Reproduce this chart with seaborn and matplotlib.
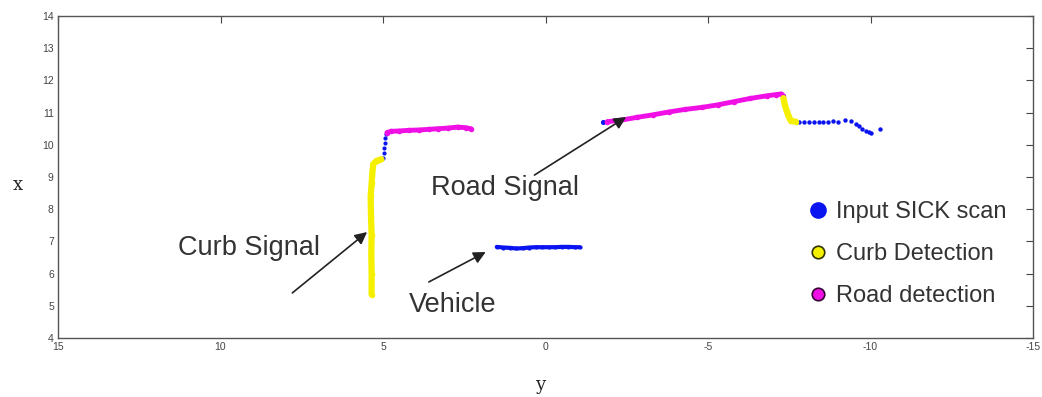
import matplotlib
matplotlib.use("Agg")
import matplotlib.pyplot as plt
from matplotlib.lines import Line2D
import seaborn as sns
import pandas as pd

# ---- data (y = lateral, x = forward) ----
curb_yellow_y = [5.35, 5.35, 5.36, 5.35, 5.37, 5.38, 5.35, 5.33, 5.30, 5.20, 5.05]
curb_yellow_x = [5.35, 6.00, 6.60, 7.20, 7.80, 8.40, 8.80, 9.10, 9.40, 9.50, 9.55]

curb_blue_y = [5.00, 4.98, 4.96, 4.95, 4.93, 4.91]
curb_blue_x = [9.60, 9.75, 9.90, 10.05, 10.20, 10.32]

curb_road_y = [4.88, 4.75, 4.50, 4.20, 3.90, 3.60, 3.30, 3.00, 2.70, 2.45, 2.30]
curb_road_x = [10.38, 10.42, 10.43, 10.45, 10.46, 10.48, 10.50, 10.52, 10.55, 10.53, 10.50]

road_start_y = [-1.78]
road_start_x = [10.72]

road_y = [-1.90, -2.30, -2.80, -3.30, -3.80, -4.30, -4.80, -5.30, -5.80, -6.30, -6.80, -7.10, -7.25, -7.32]
road_x = [10.72, 10.76, 10.85, 10.93, 11.02, 11.10, 11.16, 11.24, 11.34, 11.44, 11.52, 11.56, 11.58, 11.52]

curb2_y = [-7.32, -7.36, -7.42, -7.48, -7.55, -7.70]
curb2_x = [11.45, 11.25, 11.05, 10.88, 10.74, 10.72]

tail_y = [-7.80, -7.95, -8.10, -8.25, -8.40, -8.55, -8.70, -8.85, -9.00, -9.20, -9.40, -9.55, -9.65, -9.75, -9.85, -9.95, -10.02, -10.30]
tail_x = [10.72, 10.72, 10.72, 10.72, 10.72, 10.72, 10.72, 10.73, 10.72, 10.76, 10.74, 10.66, 10.58, 10.50, 10.43, 10.39, 10.38, 10.49]

vehicle_y = [1.50, 1.30, 1.10, 0.90, 0.70, 0.50, 0.30, 0.10, -0.10, -0.30, -0.50, -0.70, -0.90, -1.05]
vehicle_x = [6.83, 6.81, 6.80, 6.78, 6.79, 6.81, 6.82, 6.82, 6.82, 6.82, 6.83, 6.83, 6.82, 6.82]

x_ticks = [15, 10, 5, 0, -5, -10, -15]
y_ticks = [4, 5, 6, 7, 8, 9, 10, 11, 12, 13, 14]
legend_labels = ["Input SICK scan", "Curb Detection", "Road detection"]

BLUE = "#0a14f0"
YELLOW = "#f5f000"
MAGENTA = "#f010e6"

sns.set_style("white")
plt.rcParams["font.family"] = ["Liberation Sans", "DejaVu Sans"]
plt.rcParams["axes.unicode_minus"] = False

fig = plt.figure(figsize=(10.42, 3.97), dpi=100)
ax = fig.add_axes([58 / 1042, 59 / 397, (1033 - 58) / 1042, (338 - 16) / 397])

def seg(ys, xs, color, lw, ms):
    df = pd.DataFrame({"y": ys, "x": xs})
    sns.lineplot(data=df, x="y", y="x", sort=False, estimator=None, color=color,
                 lw=lw, marker="o", markersize=ms, markeredgewidth=0, ax=ax)

def dots(ys, xs, color, s):
    df = pd.DataFrame({"y": ys, "x": xs})
    sns.scatterplot(data=df, x="y", y="x", color=color, s=s, linewidth=0, ax=ax)

seg(curb_yellow_y, curb_yellow_x, YELLOW, 4.5, 4)
dots(curb_blue_y, curb_blue_x, BLUE, 9)
seg(curb_road_y, curb_road_x, MAGENTA, 3.5, 4)
dots(road_start_y, road_start_x, BLUE, 14)
seg(road_y, road_x, MAGENTA, 3.5, 4)
seg(curb2_y, curb2_x, YELLOW, 4.5, 4)
dots(tail_y, tail_x, BLUE, 10)
seg(vehicle_y, vehicle_x, BLUE, 3.0, 3)

ax.set_xlim(15, -15)
ax.set_ylim(4, 14)
ax.set_xticks(x_ticks)
ax.set_yticks(y_ticks)
ax.tick_params(direction="in", length=5, width=0.8, top=True, right=True,
               labelsize=7.5, labelcolor="#444444", color="#444444", pad=3)
for sp in ax.spines.values():
    sp.set_color("#555555")
    sp.set_linewidth(1.0)

ax.set_xlabel("y", family="DejaVu Serif", fontsize=13, va="center")
ax.set_ylabel("x", family="DejaVu Serif", fontsize=13, rotation=0, va="center", ha="center")
ax.xaxis.set_label_coords(0.494, -0.146)
ax.yaxis.set_label_coords(-0.041, 0.475)

# annotations
arrow = dict(arrowstyle="-|>", color="#222222", lw=1.2, mutation_scale=18, shrinkA=0, shrinkB=0)
ax.text(11.32, 6.8, "Curb Signal", fontsize=19.5, color="#333333", va="center", ha="left")
ax.annotate("", xy=(5.49, 7.29), xytext=(7.79, 5.40), arrowprops=arrow)
ax.text(3.53, 8.66, "Road Signal", fontsize=19.5, color="#333333", va="center", ha="left")
ax.annotate("", xy=(-2.48, 10.86), xytext=(0.34, 9.06), arrowprops=arrow)
ax.text(4.20, 5.02, "Vehicle", fontsize=19.5, color="#333333", va="center", ha="left")
ax.annotate("", xy=(1.84, 6.67), xytext=(3.59, 5.74), arrowprops=arrow)

handles = [
    Line2D([], [], ls="", marker="o", markersize=11, markerfacecolor=BLUE, markeredgecolor=BLUE),
    Line2D([], [], ls="", marker="o", markersize=9, markerfacecolor=YELLOW, markeredgecolor="#333300", markeredgewidth=1.2),
    Line2D([], [], ls="", marker="o", markersize=9, markerfacecolor=MAGENTA, markeredgecolor="#330033", markeredgewidth=1.2),
]
ax.legend(handles, legend_labels, loc="upper left", bbox_to_anchor=(0.760, 0.455),
          frameon=False, fontsize=17, handlelength=0.8, handletextpad=0.35,
          labelspacing=0.85, borderaxespad=0, labelcolor="#333333")

fig.savefig("out.png", dpi=100)
